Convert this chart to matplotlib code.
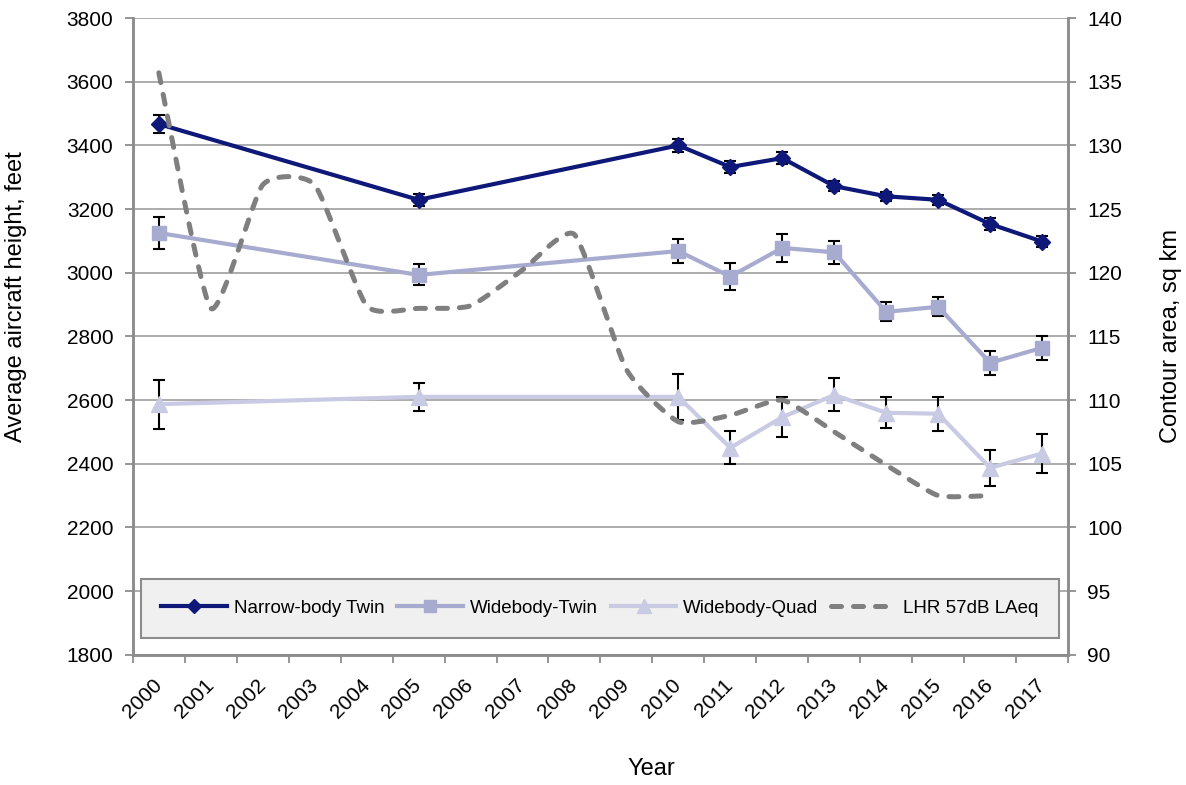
import numpy as np
import matplotlib
matplotlib.use('Agg')
import matplotlib.pyplot as plt
from matplotlib.lines import Line2D

plt.rcParams['font.family'] = ['Liberation Sans', 'DejaVu Sans']

# category axis: one slot per year
years = [str(y) for y in range(2000, 2018)]

# left axis series (year, value, error)
narrow_years = [2000, 2005, 2010, 2011, 2012, 2013, 2014, 2015, 2016, 2017]
narrow_vals = [3467, 3229, 3400, 3332, 3360, 3272, 3240, 3229, 3153, 3098]
narrow_err = [28, 19, 20, 20, 20, 16, 15, 15, 20, 18]

wtwin_years = [2000, 2005, 2010, 2011, 2012, 2013, 2014, 2015, 2016, 2017]
wtwin_vals = [3125, 2993, 3068, 2988, 3078, 3064, 2877, 2893, 2717, 2764]
wtwin_err = [49, 33, 38, 42, 45, 37, 30, 30, 38, 37]

wquad_years = [2000, 2005, 2010, 2011, 2012, 2013, 2014, 2015, 2016, 2017]
wquad_vals = [2587, 2610, 2610, 2450, 2546, 2616, 2560, 2557, 2387, 2432]
wquad_err = [77, 45, 73, 52, 62, 52, 49, 53, 56, 61]

# right axis contour area
lhr_years = list(range(2000, 2017))
lhr_vals = [135.7, 117.2, 126.9, 126.9, 117.4, 117.2, 117.4, 120.2, 123.0,
            112.4, 108.3, 108.8, 110.0, 107.5, 104.9, 102.5, 102.5]

navy = '#0d1878'
twin_col = '#a8abd0'
quad_col = '#c9cae4'
grey = '#7f7f7f'
axcol = '#8c8c8c'


def pos(yrs):
    return np.array([y - 2000 for y in yrs], dtype=float)


def smooth(x, y, k=0.09, n=30):
    # smoothed line: bezier segments, handles from neighbouring points
    x = np.asarray(x, float); y = np.asarray(y, float)
    xs, ys = [], []
    for i in range(len(x) - 1):
        i0 = max(i - 1, 0); i3 = min(i + 2, len(x) - 1)
        p0 = np.array([x[i], y[i]]); p3 = np.array([x[i + 1], y[i + 1]])
        p1 = p0 + k * (np.array([x[i + 1], y[i + 1]]) - np.array([x[i0], y[i0]]))
        p2 = p3 - k * (np.array([x[i3], y[i3]]) - np.array([x[i], y[i]]))
        t = np.linspace(0, 1, n)[:, None]
        seg = ((1 - t) ** 3) * p0 + 3 * ((1 - t) ** 2) * t * p1 + 3 * (1 - t) * t ** 2 * p2 + t ** 3 * p3
        xs.extend(seg[:, 0]); ys.extend(seg[:, 1])
    return np.array(xs), np.array(ys)


fig = plt.figure(figsize=(11.86, 7.85), dpi=100)
ax = fig.add_axes([0.112, 0.166, 0.7885, 0.811])
ax2 = ax.twinx()

ebkw = dict(ecolor='black', elinewidth=1.5, capsize=4.5, capthick=1.5, zorder=3)
ax.errorbar(pos(narrow_years), narrow_vals, yerr=narrow_err, color=navy, lw=3,
            marker='D', ms=8, **ebkw)
ax.errorbar(pos(wtwin_years), wtwin_vals, yerr=wtwin_err, color=twin_col, lw=3,
            marker='s', ms=10, **ebkw)
ax.errorbar(pos(wquad_years), wquad_vals, yerr=wquad_err, color=quad_col, lw=3,
            marker='^', ms=11, **ebkw)

sx, sy = smooth(pos(lhr_years), lhr_vals)
ax2.plot(sx, sy, color=grey, lw=3.6, dashes=(2.0, 2.4), dash_capstyle='round')

ax.set_xlim(-0.5, len(years) - 0.5)
ax.set_ylim(1800, 3800)
ax.set_yticks(range(1800, 3801, 200))
ax2.set_ylim(90, 140)
ax2.set_yticks(range(90, 141, 5))

ax.set_xticks(np.arange(len(years)))
ax.set_xticklabels(years, rotation=45, ha='right', va='center', rotation_mode='anchor', fontsize=15)
ax.set_xticks(np.arange(len(years) + 1) - 0.5, minor=True)
ax.tick_params(axis='x', which='major', length=0, pad=20)
ax.tick_params(axis='x', which='minor', length=6, width=1.3, color=axcol)
ax.tick_params(axis='y', length=6, width=1.3, color=axcol, labelsize=15, pad=8)
ax2.tick_params(axis='y', length=6, width=1.3, color=axcol, labelsize=15, pad=8)

ax.grid(axis='y', color='#a6a6a6', lw=1.3)
ax.set_axisbelow(True)
for a in (ax, ax2):
    a.spines['top'].set_visible(False)
    for s in ('left', 'right', 'bottom'):
        a.spines[s].set_color(axcol)
        a.spines[s].set_linewidth(1.8)

ax.set_xlabel('Year', fontsize=17)
ax.xaxis.set_label_coords(0.554, -0.163)
ax.set_ylabel('Average aircraft height, feet', fontsize=17)
ax.yaxis.set_label_coords(-0.113, 0.562)
ax2.set_ylabel('Contour area, sq km', fontsize=17)
ax2.yaxis.set_label_coords(1.098, 0.5)

handles = [
    Line2D([], [], color=navy, lw=3, marker='D', ms=7),
    Line2D([], [], color=twin_col, lw=3, marker='s', ms=9),
    Line2D([], [], color=quad_col, lw=3, marker='^', ms=10),
    Line2D([], [], color=grey, lw=3.6, dashes=(2.0, 2.4), dash_capstyle='round'),
]
labels = ['Narrow-body Twin', 'Widebody-Twin', 'Widebody-Quad', 'LHR 57dB LAeq']
leg = ax2.legend(handles, labels, loc='lower left', bbox_to_anchor=(0.0086, 0.027),
                 ncol=4, fontsize=13.5, frameon=True, fancybox=False,
                 handlelength=3.5, handletextpad=0.35, columnspacing=0.7,
                 borderpad=1.1, borderaxespad=0)
leg.get_frame().set_facecolor('#f0f0f0')
leg.get_frame().set_edgecolor('#8c8c8c')
leg.get_frame().set_linewidth(1.5)
leg.get_frame().set_alpha(1)

fig.savefig('out.png', dpi=100)
